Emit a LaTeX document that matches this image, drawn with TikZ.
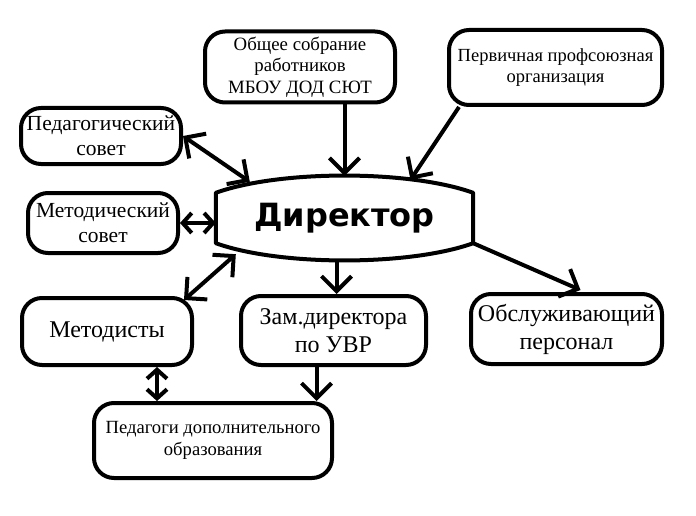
\documentclass[tikz,border=0pt]{standalone}
\usepackage{fontspec}
\setmainfont{Liberation Serif}
\newfontfamily\dirfont{DejaVu Sans}
\usetikzlibrary{arrows.meta,calc}
\begin{document}
\begin{tikzpicture}[x=1pt,y=-1pt,
  box/.style={draw, line width=4pt, rounded corners=20pt, align=center, inner sep=0pt},
  conn/.style={line width=4pt},
  barb/.tip={Straight Barb[length=15pt,width=30pt,line width=4pt]},
  sbarb/.tip={Straight Barb[length=9pt,width=20pt,line width=4pt]},
  tip/.style={conn,-barb},
  both/.style={conn,barb-barb},
  sboth/.style={conn,sbarb-sbarb}]
\useasboundingbox (0,0) rectangle (696,516);

\node[box, minimum width=190pt, minimum height=71pt, font=\fontsize{18.8}{21.5}\selectfont] (obs) at (300,67) {Общее собрание\\работников\\МБОУ ДОД СЮТ};
\node[box, minimum width=213pt, minimum height=75pt, font=\fontsize{18.5}{21.5}\selectfont] (perv) at (555.5,67.5) {Первичная профсоюзная\\организация};
\node[box, minimum width=160pt, minimum height=56pt, font=\fontsize{21.5}{25}\selectfont] (ped) at (101,136) {Педагогический\\совет};
\node[box, minimum width=150pt, minimum height=60pt, font=\fontsize{21.5}{25}\selectfont] (met) at (103,223) {Методический\\совет};
\node[box, minimum width=170pt, minimum height=67pt, font=\fontsize{24}{28}\selectfont] (metod) at (107,331.5) {Методисты};
\node[box, minimum width=185pt, minimum height=69pt, font=\fontsize{24}{28}\selectfont] (zam) at (333.5,330.5) {Зам.директора\\по УВР};
\node[box, minimum width=191pt, minimum height=70pt, font=\fontsize{24}{28}\selectfont] (obsl) at (566.5,329) {Обслуживающий\\персонал};
\node[box, minimum width=238pt, minimum height=75pt, font=\fontsize{18.6}{21.5}\selectfont] (pedag) at (213,440.5) {Педагоги дополнительного\\образования};

\node[minimum width=257pt, minimum height=50pt, inner sep=0pt, font=\dirfont\bfseries\fontsize{32}{36}\selectfont] (dir) at (344.5,218) {Директор};
\draw[line width=4pt, line join=round]
  (dir.north west) .. controls ($(dir.north west)+(64,-23)$) and ($(dir.north east)+(-64,-23)$) .. (dir.north east)
  -- (dir.south east)
  .. controls ($(dir.south east)+(-64,23)$) and ($(dir.south west)+(64,23)$) .. (dir.south west) -- cycle;

\coordinate (dtop) at ($(dir.north)+(0,-17)$);
\coordinate (dbot) at ($(dir.south)+(-8,17)$);
\coordinate (dpv) at ($(dir.north)+(66,-13)$);
\coordinate (dpd) at ($(dir.north west)+(34,-11)$);
\coordinate (dmt) at ($(dir.south west)+(20,11)$);
\coordinate (omt) at ($(metod.north east)+(-10,4)$);
\coordinate (mp) at ($(metod.south)+(50,0)$);
\coordinate (zp) at ($(zam.south)+(-17,0)$);
\coordinate (ob) at ($(obsl.north)+(14,-2)$);

\draw[tip] (obs.south -| dtop) -- (dtop);
\draw[tip] ($(perv.south west)+(12,0)$) -- (dpv);
\draw[both] (ped.east) -- (dpd);
\draw[sboth] (met.east) -- (met.east -| dir.west);
\draw[both] (dmt) -- (omt);
\draw[tip] (dbot) -- (dbot |- zam.north);
\draw[tip] (dir.south east) -- (ob);
\draw[sboth] (mp) -- (mp |- pedag.north);
\draw[tip] (zp) -- (zp |- pedag.north);
\end{tikzpicture}
\end{document}
